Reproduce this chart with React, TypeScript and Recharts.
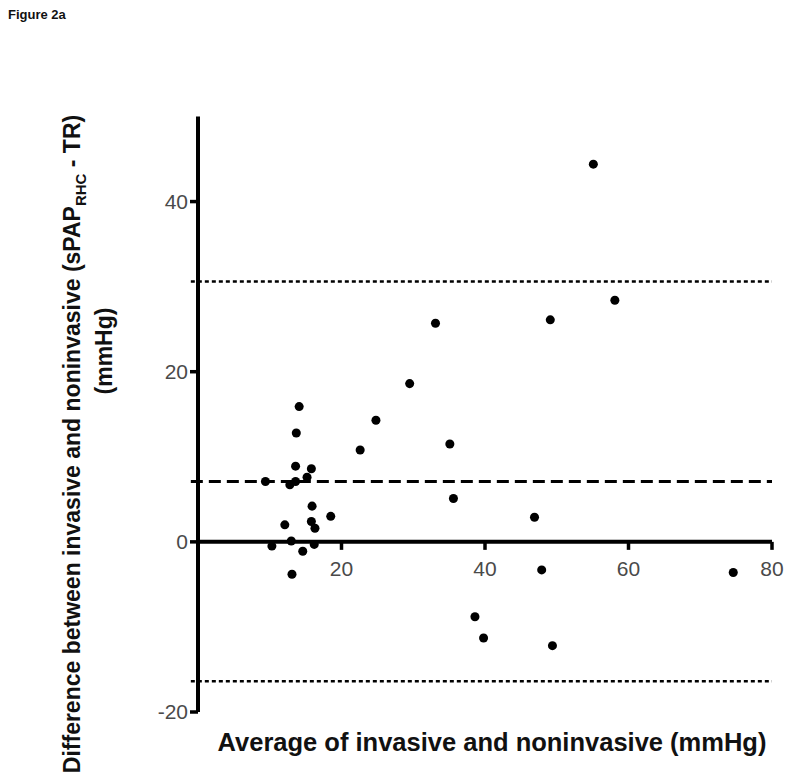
import React from 'react';
import { ScatterChart, Scatter, XAxis, YAxis, ZAxis, ReferenceLine } from 'recharts';

// Bland-Altman data: average (x) vs difference (y), mmHg
const avgValues = [55.1, 58.1, 49.1, 33.1, 29.5, 35.1, 24.8, 22.6, 35.6, 46.9, 47.9, 74.6, 38.6, 39.8, 49.4,
  14.1, 13.7, 13.6, 15.8, 9.4, 12.8, 13.6, 15.2, 15.9, 18.5, 12.1, 15.8, 16.3, 13.0, 10.3, 16.2, 14.6, 13.1];
const diffValues = [44.4, 28.4, 26.1, 25.7, 18.6, 11.5, 14.3, 10.8, 5.1, 2.9, -3.3, -3.6, -8.8, -11.3, -12.2,
  15.9, 12.8, 8.9, 8.6, 7.1, 6.7, 7.1, 7.6, 4.2, 3.0, 2.0, 2.4, 1.6, 0.1, -0.5, -0.3, -1.1, -3.8];

const xTicks = [20, 40, 60, 80];
const yTicks = [-20, 0, 20, 40];
const meanDiff = 7.1;
const upperLoA = 30.6;
const lowerLoA = -16.4;

const X_MIN = 0, X_MAX = 80, Y_MIN = -20, Y_MAX = 50;

const data = avgValues.map((x, i) => ({ x, y: diffValues[i] }));

const W = 784, H = 764;
const MARGIN = { top: 108.5, right: 20, bottom: 30, left: 130 };
const Y_AXIS_W = 60, X_AXIS_H = 30;
const PLOT_H = H - MARGIN.top - MARGIN.bottom - X_AXIS_H;
const ZERO_Y = MARGIN.top + (PLOT_H * (Y_MAX - 0)) / (Y_MAX - Y_MIN);

const FONT = '"Liberation Sans", Arial, Helvetica, sans-serif';

const XTick = (props: any) => {
  const { x, payload } = props;
  return (
    <g>
      <line x1={x} x2={x} y1={ZERO_Y} y2={ZERO_Y + 8} stroke="#000" strokeWidth={3.5} />
      <text x={x} y={ZERO_Y + 34} textAnchor="middle" fontSize={21} fill="#4a4a4a" fontFamily={FONT}>
        {payload.value}
      </text>
    </g>
  );
};

const XTitle = () => (
  <text
    x={484}
    y={743}
    textAnchor="middle"
    fontSize={25.5}
    fontWeight="bold"
    fontFamily={FONT}
    fill="#111"
  >
    Average of invasive and noninvasive (mmHg)
  </text>
);

const YTitle = () => (
  <g>
    <text
      transform={`translate(72, 436) rotate(-90)`}
      textAnchor="middle"
      fontSize={23}
      fontWeight="bold"
      fontFamily={FONT}
      fill="#111"
    >
      <tspan>Difference between invasive and noninvasive (sPAP</tspan>
      <tspan fontSize={15} dy={6}>RHC</tspan>
      <tspan dy={-6}> - TR)</tspan>
    </text>
    <text
      transform={`translate(104, 343) rotate(-90)`}
      textAnchor="middle"
      fontSize={23}
      fontWeight="bold"
      fontFamily={FONT}
      fill="#111"
    >
      (mmHg)
    </text>
  </g>
);

export default function App() {
  return (
    <div style={{ position: 'relative', width: W, height: H }}>
      <div
        style={{
          position: 'absolute',
          left: 0,
          top: -1,
          fontFamily: FONT,
          fontWeight: 'bold',
          fontSize: 13,
          color: '#111',
        }}
      >
        Figure 2a
      </div>
      <ScatterChart width={W} height={H} margin={MARGIN}>
        <XAxis
          type="number"
          dataKey="x"
          domain={[X_MIN, X_MAX]}
          ticks={xTicks}
          axisLine={false}
          tickLine={false}
          height={X_AXIS_H}
          tick={<XTick />}
          interval={0}
          allowDataOverflow
          label={{ content: <XTitle /> }}
        />
        <YAxis
          type="number"
          dataKey="y"
          domain={[Y_MIN, Y_MAX]}
          ticks={yTicks}
          width={Y_AXIS_W}
          interval={0}
          allowDataOverflow
          axisLine={{ stroke: '#000', strokeWidth: 4 }}
          tickLine={{ stroke: '#000', strokeWidth: 3.5 }}
          tickSize={8}
          tickMargin={2}
          tick={{ fontSize: 21, fill: '#4a4a4a', fontFamily: FONT }}
          label={{ content: <YTitle /> }}
        />
        <ZAxis range={[70, 70]} />
        <ReferenceLine
          segment={[{ x: -1, y: upperLoA }, { x: X_MAX, y: upperLoA }]}
          stroke="#000"
          strokeWidth={2.5}
          strokeDasharray="4 3"
          ifOverflow="visible"
        />
        <ReferenceLine
          segment={[{ x: -1, y: meanDiff }, { x: X_MAX, y: meanDiff }]}
          stroke="#000"
          strokeWidth={3}
          strokeDasharray="12 6"
          ifOverflow="visible"
        />
        <ReferenceLine
          segment={[{ x: -1, y: lowerLoA }, { x: X_MAX, y: lowerLoA }]}
          stroke="#000"
          strokeWidth={2.5}
          strokeDasharray="4 3"
          ifOverflow="visible"
        />
        <ReferenceLine y={0} stroke="#000" strokeWidth={4} />
        <Scatter data={data} fill="#000" isAnimationActive={false} />
      </ScatterChart>
    </div>
  );
}
